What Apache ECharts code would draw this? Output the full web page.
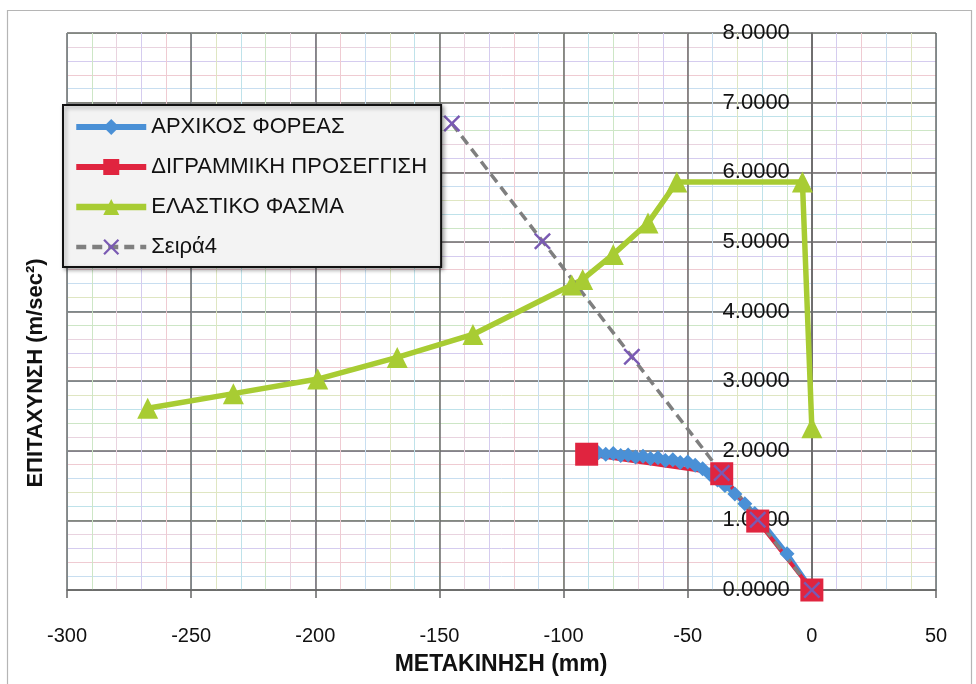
<!DOCTYPE html>
<html>
<head>
<meta charset="utf-8">
<script src="https://cdn.jsdelivr.net/npm/echarts@6/dist/echarts.min.js"></script>
<style>html,body{margin:0;padding:0;background:#fff}#c{width:976px;height:684px}</style>
</head>
<body>
<div id="c"></div>
<script>
// Data
var seriesNames = ['ΑΡΧΙΚΟΣ ΦΟΡΕΑΣ', 'ΔΙΓΡΑΜΜΙΚΗ ΠΡΟΣΕΓΓΙΣΗ', 'ΕΛΑΣΤΙΚΟ ΦΑΣΜΑ', 'Σειρά4'];

var blueX = [-86, -83, -80, -77, -74, -71, -68, -65, -62, -59, -56, -53, -50, -47, -44, -41, -38, -35, -31, -27, -23, -10, 0];
var blueY = [1.97, 1.95, 1.96, 1.93, 1.94, 1.91, 1.92, 1.89, 1.90, 1.86, 1.87, 1.83, 1.84, 1.79, 1.74, 1.66, 1.58, 1.50, 1.38, 1.24, 1.10, 0.52, 0];

var redX = [-90.7, -36.3, -21.8, 0];
var redY = [1.95, 1.67, 0.99, 0];

var greenX = [-267.5, -233, -199, -167, -136.5, -96.7, -92.3, -80, -66, -54.4, -3.8, 0];
var greenY = [2.61, 2.82, 3.03, 3.34, 3.67, 4.38, 4.46, 4.82, 5.27, 5.86, 5.86, 2.33];

var grayX = [-145, -108.5, -72.5, -36.3, -21.8, 0];
var grayY = [6.70, 5.01, 3.35, 1.68, 1.01, 0];

var xTickMin = -300, xTickMax = 50, xMajor = 50, xMinor = 10;
var yTickMin = 0, yTickMax = 8, yMajor = 1, yMinor = 0.2;
var yAxisCrossX = 0;

function pairs(xs, ys) { return xs.map(function (x, i) { return [x, ys[i]]; }); }

var FONT = "'Liberation Sans', Arial, sans-serif";
var pastel = ['#bfe2ea', '#cde6c6', '#e9d3df', '#d5ccef', '#efcbd2', '#c8def0', '#dfe6c2'];
var xMark = 'path://M0,1 L1,0 L5,4 L9,0 L10,1 L6,5 L10,9 L9,10 L5,6 L1,10 L0,9 L4,5 Z';
var lineW = [5, 5, 5.5, 3.5];
var GRID_LEFT = 67;

var chart = echarts.init(document.getElementById('c'), null, {renderer: 'canvas'});
chart.setOption({
  backgroundColor: '#ffffff',
  animation: false,
  grid: {left: GRID_LEFT, right: 40, top: 33, bottom: 94, containLabel: false, outerBoundsMode: 'none'},
  xAxis: [
    {type: 'value', position: 'bottom', offset: 0, min: xTickMin, max: xTickMax, interval: xMinor,
     axisLine: {show: false, onZero: false}, axisTick: {show: false}, axisLabel: {show: false},
     splitLine: {show: true, lineStyle: {color: pastel, width: 1}}},
    {type: 'value', position: 'bottom', offset: 0, min: xTickMin, max: xTickMax, interval: xMajor,
     axisLine: {show: true, onZero: false, lineStyle: {color: '#666', width: 1.5}},
     axisTick: {show: true, inside: false, length: 8, lineStyle: {color: '#666', width: 1.5}},
     axisLabel: {show: true, margin: 36, color: '#111', fontSize: 20, fontFamily: FONT},
     splitLine: {show: true, lineStyle: {color: '#6a6a6a', width: 1.5}}}
  ],
  yAxis: [
    {type: 'value', position: 'left', offset: 0, min: yTickMin, max: yTickMax, interval: yMinor,
     axisLine: {show: false, onZero: false}, axisTick: {show: false}, axisLabel: {show: false},
     splitLine: {show: true, lineStyle: {color: pastel.slice().reverse(), width: 1}}},
    {type: 'value', position: 'left', offset: 0, min: yTickMin, max: yTickMax, interval: yMajor,
     axisLine: {show: true, onZero: false, lineStyle: {color: '#666', width: 1.5}},
     axisTick: {show: false},
     axisLabel: {show: true, margin: 22, color: '#111', fontSize: 22, fontFamily: FONT,
                 formatter: function (v) { return v.toFixed(4); }},
     splitLine: {show: true, lineStyle: {color: '#6a6a6a', width: 1.5}}}
  ],
  legend: {
    orient: 'vertical', left: 63, top: 105,
    padding: [11, 14, 9, 10],
    itemWidth: 70, itemHeight: 20, itemGap: 18,
    backgroundColor: '#f3f3f3', borderColor: '#111', borderWidth: 2,
    shadowColor: 'rgba(0,0,0,0.35)', shadowBlur: 4, shadowOffsetX: 2, shadowOffsetY: 2,
    textStyle: {fontSize: 22, lineHeight: 22, color: '#111', fontFamily: FONT},
    data: seriesNames.map(function (n, i) { return {name: n, lineStyle: {width: lineW[i] + 1}}; })
  },
  graphic: [
    {type: 'rect', left: 5, top: 8, shape: {width: 964, height: 700}, silent: true,
     style: {fill: 'none', stroke: '#b5b5b5', lineWidth: 1.2}, z: -10},
    {type: 'text', x: 501, y: 665, silent: true,
     style: {text: 'ΜΕΤΑΚΙΝΗΣΗ (mm)', font: 'bold 23px ' + FONT, fill: '#111',
             textAlign: 'center', textVerticalAlign: 'middle'}},
    {type: 'text', x: 36, y: 373, rotation: Math.PI / 2, silent: true,
     style: {text: 'ΕΠΙΤΑΧΥΝΣΗ (m/sec²)', font: 'bold 22px ' + FONT, fill: '#111',
             textAlign: 'center', textVerticalAlign: 'middle'}}
  ],
  series: [
    {name: seriesNames[0], type: 'line', xAxisIndex: 1, yAxisIndex: 1,
     data: pairs(blueX, blueY), symbol: 'diamond', symbolSize: 15,
     itemStyle: {color: '#4a90d6'}, lineStyle: {color: '#4a90d6', width: lineW[0]}},
    {name: seriesNames[1], type: 'line', xAxisIndex: 1, yAxisIndex: 1,
     data: pairs(redX, redY), symbol: 'rect', symbolSize: 23,
     itemStyle: {color: '#e0243f'}, lineStyle: {color: '#e0243f', width: lineW[1] - 1}},
    {name: seriesNames[2], type: 'line', xAxisIndex: 1, yAxisIndex: 1,
     data: pairs(greenX, greenY), symbol: 'triangle', symbolSize: 21,
     itemStyle: {color: '#a8cc33'}, lineStyle: {color: '#a8cc33', width: lineW[2]}},
    {name: seriesNames[3], type: 'line', xAxisIndex: 1, yAxisIndex: 1,
     data: pairs(grayX, grayY), symbol: xMark, symbolSize: 17,
     itemStyle: {color: '#7a5ab3'}, lineStyle: {color: '#7f7f7f', width: lineW[3], type: [10, 6]}}
  ]
});
// Place the labelled y axis where x = 0, using the library's own x scale
var crossPx = chart.convertToPixel({xAxisIndex: 1}, yAxisCrossX);
chart.setOption({yAxis: [{}, {offset: -(crossPx - GRID_LEFT)}]});
</script>
</body>
</html>
